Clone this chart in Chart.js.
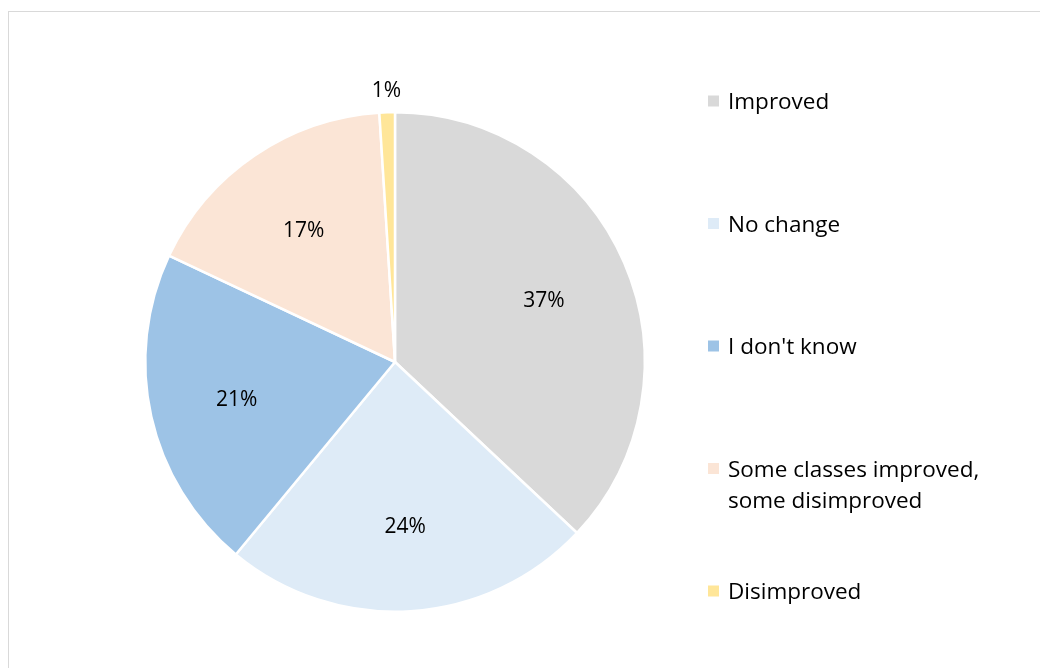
<!DOCTYPE html>
<html>
<head>
<meta charset="utf-8">
<script src="https://cdn.jsdelivr.net/npm/chart.js@4"></script>
<style>
  html, body { margin: 0; padding: 0; background: #fff; overflow: hidden; }
  #wrap { position: relative; width: 1040px; height: 668px; overflow: hidden; }
  #frame { position: absolute; left: 8px; top: 11px; width: 1100px; height: 720px; border: 1.5px solid #d9d9d9; }
  #c { position: absolute; left: 0; top: 0; }
</style>
</head>
<body>
<div id="wrap">
  <div id="frame"></div>
  <canvas id="c" width="1040" height="668"></canvas>
</div>
<script>
const labels = ["Improved", "No change", "I don't know", ["Some classes improved,", "some disimproved"], "Disimproved"];
const values = [37, 24, 21, 17, 1];
const colors = ["#d9d9d9", "#deebf7", "#9dc3e6", "#fbe5d6", "#ffe699"];

const FONT = "'Open Sans', sans-serif";

// percent labels inside slices, small ones outside
const sliceLabels = {
  id: "sliceLabels",
  afterDatasetsDraw(chart) {
    const ctx = chart.ctx;
    const meta = chart.getDatasetMeta(0);
    const total = values.reduce((a, b) => a + b, 0);
    ctx.save();
    ctx.font = "21px " + FONT;
    ctx.fillStyle = "#000";
    ctx.textAlign = "center";
    ctx.textBaseline = "middle";
    meta.data.forEach((arc, i) => {
      const mid = (arc.startAngle + arc.endAngle) / 2;
      const pct = Math.round(values[i] / total * 100);
      const r = pct < 5 ? arc.outerRadius + 24 : arc.outerRadius * 0.65;
      ctx.fillText(pct + "%", arc.x + Math.cos(mid) * r, arc.y + Math.sin(mid) * r + 3);
    });
    ctx.restore();
  }
};

// legend on the right, spread out like the original
const sideLegend = {
  id: "sideLegend",
  afterDraw(chart) {
    const ctx = chart.ctx;
    const x0 = 708, textX = 728, top = 101, step = 122.5, lineH = 31;
    ctx.save();
    ctx.font = "22.5px " + FONT;
    ctx.textBaseline = "middle";
    ctx.textAlign = "left";
    labels.forEach((lab, i) => {
      const y = top + i * step;
      ctx.fillStyle = colors[i];
      ctx.fillRect(x0, y - 5.5, 11, 11);
      ctx.fillStyle = "#000";
      const lines = Array.isArray(lab) ? lab : [lab];
      lines.forEach((t, j) => ctx.fillText(t, textX, y + 2 + j * lineH));
    });
    ctx.restore();
  }
};

new Chart(document.getElementById("c"), {
  type: "pie",
  data: {
    labels: labels,
    datasets: [{
      data: values,
      backgroundColor: colors,
      borderColor: "#ffffff",
      borderWidth: 2.5
    }]
  },
  options: {
    responsive: false,
    animation: false,
    layout: { padding: { left: 144, right: 394, top: 111, bottom: 55 } },
    plugins: {
      legend: { display: false },
      tooltip: { enabled: false }
    }
  },
  plugins: [sliceLabels, sideLegend]
});
</script>
</body>
</html>
